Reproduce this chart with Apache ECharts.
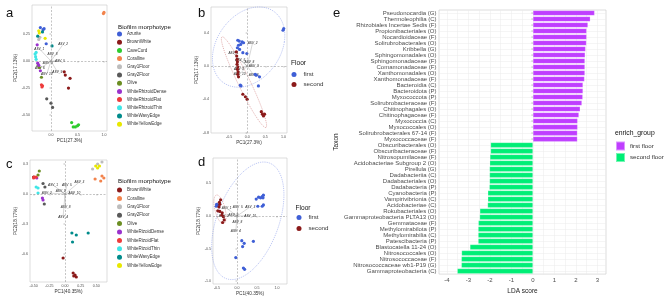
<!DOCTYPE html>
<html>
<head>
<meta charset="utf-8">
<script src="https://cdn.jsdelivr.net/npm/echarts@6/dist/echarts.min.js"></script>
<style>
html, body { margin: 0; padding: 0; background: #fff; }
#chart { width: 669px; height: 300px; }
</style>
</head>
<body>
<div id="chart"></div>
<script>
// ---- panel a / b : PCA on 27.3% / 17.13% ----
var morphA = ['Azurite', 'BrownWhite', 'CaveCurd', 'Coralline', 'Gray1Floor', 'Gray2Floor', 'Olive',
    'WhiteRhizoidDense', 'WhiteRhizoidFlat', 'WhiteRhizoidThin', 'WhiteWavyEdge', 'WhiteYellowEdge'];
var sitesA = [
    [-0.20, 0.31, 'Azurite'], [-0.13, 0.30, 'Azurite'], [-0.09, 0.16, 'Azurite'], [-0.15, 0.29, 'Azurite'],
    [0.25, -0.10, 'BrownWhite'], [0.27, -0.13, 'BrownWhite'], [0.36, -0.16, 'BrownWhite'], [0.33, -0.25, 'BrownWhite'],
    [0.39, -0.57, 'CaveCurd'], [0.42, -0.61, 'CaveCurd'], [0.46, -0.61, 'CaveCurd'], [0.50, -0.60, 'CaveCurd'], [0.52, -0.59, 'CaveCurd'],
    [0.99, 0.44, 'Coralline'], [1.00, 0.45, 'Coralline'],
    [-0.23, 0.20, 'Gray1Floor'], [-0.21, 0.22, 'Gray1Floor'],
    [-0.08, -0.35, 'Gray2Floor'], [0.00, -0.39, 'Gray2Floor'], [0.03, -0.43, 'Gray2Floor'],
    [-0.24, -0.04, 'Olive'], [-0.22, -0.06, 'Olive'], [-0.18, -0.15, 'Olive'],
    [-0.26, 0.15, 'WhiteRhizoidDense'], [-0.25, -0.02, 'WhiteRhizoidDense'], [-0.23, -0.04, 'WhiteRhizoidDense'], [-0.20, -0.09, 'WhiteRhizoidDense'],
    [-0.18, -0.22, 'WhiteRhizoidFlat'], [-0.17, -0.24, 'WhiteRhizoidFlat'], [-0.16, -0.23, 'WhiteRhizoidFlat'],
    [-0.28, 0.08, 'WhiteRhizoidThin'], [-0.30, 0.065, 'WhiteRhizoidThin'], [-0.29, 0.04, 'WhiteRhizoidThin'], [-0.28, 0.016, 'WhiteRhizoidThin'],
    [-0.16, 0.27, 'WhiteWavyEdge'], [-0.25, 0.23, 'WhiteWavyEdge'], [0.02, 0.14, 'WhiteWavyEdge'],
    [-0.23, 0.28, 'WhiteYellowEdge'], [-0.22, 0.26, 'WhiteYellowEdge'], [-0.11, 0.21, 'WhiteYellowEdge']
];
var arrowsA = [[0.23, 0.155], [0.03, 0.06], [-0.22, 0.114], [-0.06, -0.02], [0.17, 0.0], [-0.21, -0.07], [-0.08, -0.12], [0.12, -0.10]];
var arrowNamesA = ['ASV_2', 'ASV_8', 'ASV_1', 'ASV_3', 'ASV_5', 'ASV_6', 'ASV_10', 'ASV_9'];

var floors = ['first', 'second'];
var sitesB = [
    [-0.26, 0.31, 'first'], [-0.22, 0.30, 'first'], [-0.14, 0.29, 'first'], [-0.10, 0.28, 'first'], [-0.24, 0.25, 'first'],
    [-0.18, 0.26, 'first'], [-0.27, 0.22, 'first'], [-0.21, 0.20, 'first'], [-0.12, 0.16, 'first'], [-0.01, 0.15, 'first'],
    [0.99, 0.43, 'first'], [1.01, 0.45, 'first'], [0.22, -0.10, 'first'], [0.25, -0.11, 'first'], [0.34, -0.13, 'first'],
    [-0.19, -0.23, 'first'], [-0.17, -0.24, 'first'], [0.31, -0.24, 'first'],
    [-0.30, 0.17, 'second'], [-0.29, 0.12, 'second'], [-0.28, 0.08, 'second'], [-0.27, 0.05, 'second'], [-0.28, 0.02, 'second'],
    [-0.26, -0.01, 'second'], [-0.27, -0.04, 'second'], [-0.25, -0.07, 'second'], [-0.26, -0.10, 'second'], [-0.24, -0.13, 'second'],
    [-0.12, -0.34, 'second'], [-0.05, -0.37, 'second'], [0.00, -0.40, 'second'],
    [0.39, -0.55, 'second'], [0.42, -0.58, 'second'], [0.45, -0.60, 'second'], [0.48, -0.58, 'second']
];
// ellipse: centre x, centre y, axis u (x, y), axis v (x, y), floor index
var ellipsesB = [[0.04, 0.228, 0.986, 0.06, 0.167, 0.479, 0], [-0.089, -0.194, 0.607, -0.545, -0.15, -0.031, 1]];
var arrowsB = [[0.15, 0.28], [-0.38, 0.15], [-0.19, 0.07], [0.06, 0.05], [0.18, 0.0], [-0.21, -0.10], [0.18, -0.11], [-0.23, -0.04]];
var arrowNamesB = ['ASV_2', 'ASV_1', 'ASV_5', 'ASV_8', 'ASV_9', 'ASV_10', 'ASV_6', 'ASV_3'];

// ---- panel c / d : PCA on 40.35% / 18.77% ----
var morphC = ['BrownWhite', 'Coralline', 'Gray1Floor', 'Gray2Floor', 'Olive', 'WhiteRizoidDense',
    'WhiteRizoidFlat', 'WhiteRizoidThin', 'WhiteWavyEdge', 'WhiteYellowEdge'];
var sitesC = [
    [-0.50, 0.17, 'BrownWhite'], [-0.03, -0.64, 'BrownWhite'], [0.13, -0.79, 'BrownWhite'], [0.16, -0.81, 'BrownWhite'],
    [0.14, -0.82, 'BrownWhite'], [0.18, -0.83, 'BrownWhite'],
    [0.48, 0.15, 'Coralline'], [0.59, 0.18, 'Coralline'], [0.62, 0.16, 'Coralline'], [0.57, 0.13, 'Coralline'],
    [0.44, 0.25, 'Gray1Floor'], [0.52, 0.30, 'Gray1Floor'], [0.59, 0.32, 'Gray1Floor'],
    [-0.35, 0.105, 'Gray2Floor'], [-0.32, 0.07, 'Gray2Floor'], [-0.33, -0.10, 'Gray2Floor'],
    [-0.41, 0.23, 'Olive'], [-0.43, 0.19, 'Olive'],
    [-0.45, 0.16, 'WhiteRizoidDense'], [-0.36, -0.04, 'WhiteRizoidDense'], [-0.35, -0.06, 'WhiteRizoidDense'],
    [-0.49, 0.17, 'WhiteRizoidFlat'], [-0.46, 0.17, 'WhiteRizoidFlat'], [-0.50, 0.16, 'WhiteRizoidFlat'],
    [-0.46, 0.07, 'WhiteRizoidThin'], [-0.43, 0.06, 'WhiteRizoidThin'], [-0.43, 0.01, 'WhiteRizoidThin'],
    [0.11, -0.39, 'WhiteWavyEdge'], [0.18, -0.41, 'WhiteWavyEdge'], [0.12, -0.48, 'WhiteWavyEdge'], [0.37, -0.39, 'WhiteWavyEdge'],
    [0.49, 0.28, 'WhiteYellowEdge'], [0.52, 0.26, 'WhiteYellowEdge'], [0.55, 0.28, 'WhiteYellowEdge']
];
var arrowsC = [[0.23, 0.12], [0.03, 0.09], [-0.19, 0.09], [-0.07, 0.03], [-0.29, 0.01], [0.15, 0.01], [0.01, -0.13], [-0.03, -0.23]];
var arrowNamesC = ['ASV_3', 'ASV_5', 'ASV_1', 'ASV_9', 'ASV_2', 'ASV_10', 'ASV_8', 'ASV_4'];

var sitesD = [
    [-0.51, 0.18, 'first'], [-0.48, 0.17, 'first'], [-0.52, 0.15, 'first'], [0.48, 0.26, 'first'], [0.54, 0.29, 'first'],
    [0.59, 0.28, 'first'], [0.63, 0.30, 'first'], [0.66, 0.32, 'first'], [0.65, 0.28, 'first'], [0.66, 0.17, 'first'],
    [0.63, 0.15, 'first'], [0.52, 0.15, 'first'], [0.12, -0.38, 'first'], [0.18, -0.42, 'first'], [0.14, -0.47, 'first'],
    [0.41, -0.39, 'first'], [-0.03, -0.64, 'first'], [0.16, -0.80, 'first'], [0.19, -0.82, 'first'],
    [-0.41, 0.25, 'second'], [-0.44, 0.21, 'second'], [-0.43, 0.18, 'second'], [-0.45, 0.14, 'second'], [-0.48, 0.08, 'second'],
    [-0.43, 0.07, 'second'], [-0.37, 0.05, 'second'], [-0.38, 0.01, 'second'], [-0.34, -0.01, 'second'], [-0.32, -0.06, 'second'],
    [-0.36, -0.10, 'second']
];
var ellipsesD = [[0.27, -0.074, 0.875, 0.185, 0.225, 0.885, 0], [-0.425, 0.103, 0.125, 0.015, -0.0875, 0.22, 1]];
var arrowsD = [[0.33, 0.14], [0.02, 0.13], [-0.26, 0.12], [-0.09, 0.02], [0.33, 0.0], [-0.33, 0.0], [0.01, -0.10], [-0.03, -0.24]];
var arrowNamesD = ['ASV_3', 'ASV_5', 'ASV_1', 'ASV_9', 'ASV_10', 'ASV_2', 'ASV_8', 'ASV_4'];

// ---- panel e : LEfSe ----
var taxa = ['Pseudonocardia (G)', 'Thermoleophilia (C)', 'Rhizobiales Incertae Sedis (F)', 'Propionibacteriales (O)',
    'Nocardioidaceae (F)', 'Solirubrobacterales (O)', 'Kribbella (G)', 'Sphingomonadales (O)', 'Sphingomonadaceae (F)',
    'Comamonadaceae (F)', 'Xanthomonadales (O)', 'Xanthomonadaceae (F)', 'Bacteroidia (C)', 'Bacteroidota (P)',
    'Myxococcota (P)', 'Solirubrobacteraceae (F)', 'Chitinophagales (O)', 'Chitinophagaceae (F)', 'Myxococcia (C)',
    'Myxococcales (O)', 'Solirubrobacterales 67-14 (F)', 'Myxococcaceae (F)', 'Obscuribacterales (O)',
    'Obscuribacteraceae (F)', 'Nitrosopumilaceae (F)', 'Acidobacteriae Subgroup 2 (O)', 'Pirellula (G)',
    'Dadabacteriia (C)', 'Dadabacteriales (O)', 'Dadabacteria (P)', 'Cyanobacteria (P)', 'Vampirivibrionia (C)',
    'Acidobacteriae (C)', 'Rokubacteriales (O)', 'Gammaproteobacteria PLTA13 (O)', 'Gemmataceae (F)',
    'Methylomirabilota (P)', 'Methylomirabilia (C)', 'Patescibacteria (P)', 'Blastocatella 11-24 (O)',
    'Nitrosococcales (O)', 'Nitrosococcaceae (F)', 'Nitrosococcaceae wb1-P19 (G)', 'Gammaproteobacteria (C)'];
var ldaFirst = [2.87, 2.67, 2.56, 2.50, 2.50, 2.49, 2.45, 2.43, 2.42, 2.42, 2.42, 2.40, 2.33, 2.33, 2.32, 2.28,
    2.20, 2.14, 2.08, 2.08, 2.07, 2.07];
var ldaSecond = [-1.97, -1.97, -2.00, -2.01, -2.02, -2.02, -2.02, -2.03, -2.10, -2.10, -2.11, -2.47, -2.48,
    -2.54, -2.55, -2.55, -2.55, -2.93, -3.32, -3.33, -3.33, -3.52];
var ldaTicks = [-4, -3, -2, -1, 0, 1, 2, 3];
var groups = ['first floor', 'second floor'];

var morphColor = {
    Azurite: '#3f5fd6', BrownWhite: '#8b1a1a', CaveCurd: '#2ecc2e', Coralline: '#f2834c', Gray1Floor: '#bdbdbd',
    Gray2Floor: '#595959', Olive: '#6b8e23', WhiteRhizoidDense: '#9a32cd', WhiteRhizoidFlat: '#ee3b3b',
    WhiteRhizoidThin: '#3fe6e6', WhiteWavyEdge: '#008b8b', WhiteYellowEdge: '#e8e800',
    WhiteRizoidDense: '#9a32cd', WhiteRizoidFlat: '#ee3b3b', WhiteRizoidThin: '#3fe6e6'
};
var floorColor = ['#3f5fd6', '#8b1a1a'];
var groupColor = ['#bf3eff', '#00ee76'];
var FONT = 'Liberation Sans, Arial, sans-serif';

var chart = echarts.init(document.getElementById('chart'), null, { renderer: 'canvas' });

var grids = [
    { left: 32, top: 5, width: 75, height: 126 },
    { left: 211, top: 7, width: 76, height: 126 },
    { left: 30, top: 160, width: 77, height: 122 },
    { left: 213, top: 158, width: 74, height: 126 },
    { left: 439, top: 10, width: 167, height: 269 }
];
grids.forEach(function (g) {
    g.show = true; g.borderColor = '#c8c8c8'; g.borderWidth = 0.6; g.backgroundColor = '#fff';
});

function pcaAxes(i, xr, yr, xt, yt, xd, yd, xname, yname, xgap, ygap) {
    var common = {
        gridIndex: i, type: 'value',
        nameLocation: 'middle',
        nameTextStyle: { fontSize: 4.7, color: '#333', fontFamily: FONT },
        axisLine: { show: false },
        splitLine: { show: false }
    };
    var x = Object.assign({}, common, {
        min: xr[0], max: xr[1], name: xname, nameGap: xgap,
        axisTick: { show: true, length: 1.5, customValues: xt, lineStyle: { color: '#555', width: 0.4 } },
        axisLabel: { customValues: xt, fontSize: 3.6, color: '#4d4d4d', margin: 2, fontFamily: FONT,
            formatter: function (v) { return v.toFixed(xd); } }
    });
    var y = Object.assign({}, common, {
        min: yr[0], max: yr[1], name: yname, nameGap: ygap, nameRotate: 90,
        axisTick: { show: true, length: 1.5, customValues: yt, lineStyle: { color: '#555', width: 0.4 } },
        axisLabel: { customValues: yt, fontSize: 3.6, color: '#4d4d4d', margin: 2, fontFamily: FONT,
            formatter: function (v) { return v.toFixed(yd); } }
    });
    return [x, y];
}

var axA = pcaAxes(0, [-0.358, 1.057], [-0.648, 0.519], [0, 0.5, 1.0], [0.25, 0, -0.25, -0.5], 1, 2, 'PC1(27.3%)', 'PC2(17.13%)', 7, 10);
var axB = pcaAxes(1, [-1.0, 1.10], [-0.806, 0.71], [-0.5, 0, 0.5, 1.0], [0.4, 0, -0.4, -0.8], 1, 1, 'PC1(27.3%)', 'PC2(17.13%)', 7, 8);
var axC = pcaAxes(2, [-0.558, 0.67], [-0.88, 0.34], [-0.5, -0.25, 0, 0.25, 0.5], [0.3, 0, -0.3, -0.6], 2, 1, 'PC1(40.35%)', 'PC2(18.77%)', 5, 9);
var axD = pcaAxes(3, [-0.6, 1.25], [-1.046, 0.892], [-0.5, 0, 0.5, 1.0], [0.5, 0, -0.5, -1.0], 1, 1, 'PC1(40.35%)', 'PC2(18.77%)', 5, 8);

var xAxes = [axA[0], axB[0], axC[0], axD[0]];
var yAxes = [axA[1], axB[1], axC[1], axD[1]];

var gridVals = [];
ldaTicks.forEach(function (t) { gridVals.push(t); gridVals.push(t + 0.5); });
gridVals.unshift(ldaTicks[0] - 0.5);

xAxes.push({
    gridIndex: 4, type: 'value', min: -4.37, max: 3.40,
    name: 'LDA score', nameLocation: 'middle', nameGap: 9,
    nameTextStyle: { fontSize: 6.5, color: '#222', fontFamily: FONT },
    axisLine: { show: false },
    axisTick: { show: false, customValues: gridVals },
    axisLabel: { customValues: ldaTicks, fontSize: 6, color: '#4d4d4d', margin: 3, fontFamily: FONT },
    splitLine: { show: true, lineStyle: { color: '#ebebeb', width: 0.5 } }
});
yAxes.push({
    gridIndex: 4, type: 'category', data: taxa, inverse: true,
    name: 'Taxon', nameLocation: 'middle', nameGap: 99, nameRotate: 90,
    nameTextStyle: { fontSize: 6.5, color: '#222', fontFamily: FONT },
    axisLine: { show: false },
    axisTick: { show: true, alignWithLabel: true, length: 1.5, lineStyle: { color: '#555', width: 0.4 } },
    axisLabel: { interval: 0, fontSize: 6, color: '#4d4d4d', margin: 2.5, fontFamily: FONT },
    splitLine: { show: true, alignWithLabel: true, lineStyle: { color: '#ebebeb', width: 0.5 } }
});

var series = [];
var zeroLines = {
    silent: true, symbol: 'none', animation: false,
    label: { show: false },
    lineStyle: { type: [2, 1.5], color: '#8a8a8a', width: 0.5 },
    data: [{ xAxis: 0 }, { yAxis: 0 }]
};

function addScatter(idx, names, sites, colorOf) {
    names.forEach(function (n, k) {
        var s = {
            name: n, type: 'scatter', xAxisIndex: idx, yAxisIndex: idx,
            symbolSize: 3.2, z: 4,
            itemStyle: { color: colorOf(n, k), opacity: 1 },
            data: sites.filter(function (r) { return r[2] === n; }).map(function (r) { return [r[0], r[1]]; })
        };
        if (k === 0) s.markLine = zeroLines;
        series.push(s);
    });
}

function addArrows(idx, arrows, labels) {
    series.push({
        type: 'custom', xAxisIndex: idx, yAxisIndex: idx, z: 3, silent: true,
        data: arrows,
        encode: { x: 0, y: 1 },
        renderItem: function (params, api) {
            var o = api.coord([0, 0]);
            var p = api.coord([api.value(0), api.value(1)]);
            return {
                type: 'group',
                children: [
                    { type: 'line', shape: { x1: o[0], y1: o[1], x2: p[0], y2: p[1] },
                      style: { stroke: '#9a9a9a', lineWidth: 0.4 } },
                    { type: 'text', x: p[0], y: p[1],
                      style: { text: labels[params.dataIndex], fontSize: 3.2, fontStyle: 'italic',
                               fill: '#222', align: 'center', verticalAlign: 'middle', fontFamily: FONT } }
                ]
            };
        }
    });
}

function addEllipses(idx, ells) {
    series.push({
        type: 'custom', xAxisIndex: idx, yAxisIndex: idx, z: 2, silent: true,
        data: ells,
        encode: { x: 0, y: 1 },
        renderItem: function (params, api) {
            var cx = api.value(0), cy = api.value(1);
            var ux = api.value(2), uy = api.value(3), vx = api.value(4), vy = api.value(5);
            var pts = [];
            for (var k = 0; k <= 90; k++) {
                var t = k / 90 * 2 * Math.PI;
                pts.push(api.coord([cx + ux * Math.cos(t) + vx * Math.sin(t), cy + uy * Math.cos(t) + vy * Math.sin(t)]));
            }
            var c = api.value(6) === 0 ? '#7b8fe6' : '#c96a6a';
            return { type: 'polyline', shape: { points: pts },
                     style: { stroke: c, fill: null, lineWidth: 0.5, lineDash: [1.2, 1] } };
        }
    });
}

addEllipses(1, ellipsesB);
addEllipses(3, ellipsesD);
addScatter(0, morphA, sitesA, function (n) { return morphColor[n]; });
addScatter(1, floors, sitesB, function (n, k) { return floorColor[k]; });
addScatter(2, morphC, sitesC, function (n) { return morphColor[n]; });
addScatter(3, floors, sitesD, function (n, k) { return floorColor[k]; });
addArrows(0, arrowsA, arrowNamesA);
addArrows(1, arrowsB, arrowNamesB);
addArrows(2, arrowsC, arrowNamesC);
addArrows(3, arrowsD, arrowNamesD);

var nFirst = ldaFirst.length;
series.push({
    name: groups[0], type: 'bar', xAxisIndex: 4, yAxisIndex: 4, stack: 'lda', barCategoryGap: '14%',
    itemStyle: { color: groupColor[0], borderColor: 'rgba(255,255,255,0.45)', borderWidth: 0.5 },
    data: taxa.map(function (t, i) { return i < nFirst ? ldaFirst[i] : '-'; })
});
series.push({
    name: groups[1], type: 'bar', xAxisIndex: 4, yAxisIndex: 4, stack: 'lda', barCategoryGap: '14%',
    itemStyle: { color: groupColor[1], borderColor: 'rgba(255,255,255,0.45)', borderWidth: 0.5 },
    data: taxa.map(function (t, i) { return i >= nFirst ? ldaSecond[i - nFirst] : '-'; })
});

function legendBox(names, left, top, gap, size, font, icon, pad) {
    return {
        data: names, orient: 'vertical', left: left, top: top, padding: 0,
        itemGap: gap, itemWidth: size, itemHeight: size, icon: icon, selectedMode: false,
        textStyle: { fontSize: font, lineHeight: size, color: '#333', fontFamily: FONT, padding: [0, 0, 0, pad] }
    };
}

function label(text, x, y, size) {
    return { type: 'text', x: x, y: y,
             style: { text: text, fontSize: size, fill: '#111', fontFamily: FONT, verticalAlign: 'middle' } };
}

var option = {
    animation: false,
    backgroundColor: '#fff',
    grid: grids,
    xAxis: xAxes,
    yAxis: yAxes,
    legend: [
        legendBox(morphA, 117, 31.5, 3.2, 5, 4.5, 'circle', 0),
        legendBox(morphC, 117, 187.5, 3.4, 5, 4.5, 'circle', 0),
        legendBox(floors, 291.5, 71.5, 4, 5, 6.2, 'circle', 2),
        legendBox(floors, 296.5, 214.5, 5, 5, 6.2, 'circle', 2),
        legendBox(groups, 615, 140.5, 0.5, 9, 6.2, 'rect', 0)
    ],
    graphic: [
        label('a', 6, 13.5, 13), label('b', 198, 13.5, 13), label('c', 6, 164.5, 13),
        label('d', 198, 162.5, 13), label('e', 333, 13.5, 13),
        label('Biofilm morphotype', 118, 27, 6.2),
        label('Biofilm morphotype', 118, 181, 6.2),
        label('Floor', 291, 63, 6.6),
        label('Floor', 295.5, 208, 6.6),
        label('enrich_group', 615, 133, 6.8)
    ],
    series: series
};

chart.setOption(option);
</script>
</body>
</html>
